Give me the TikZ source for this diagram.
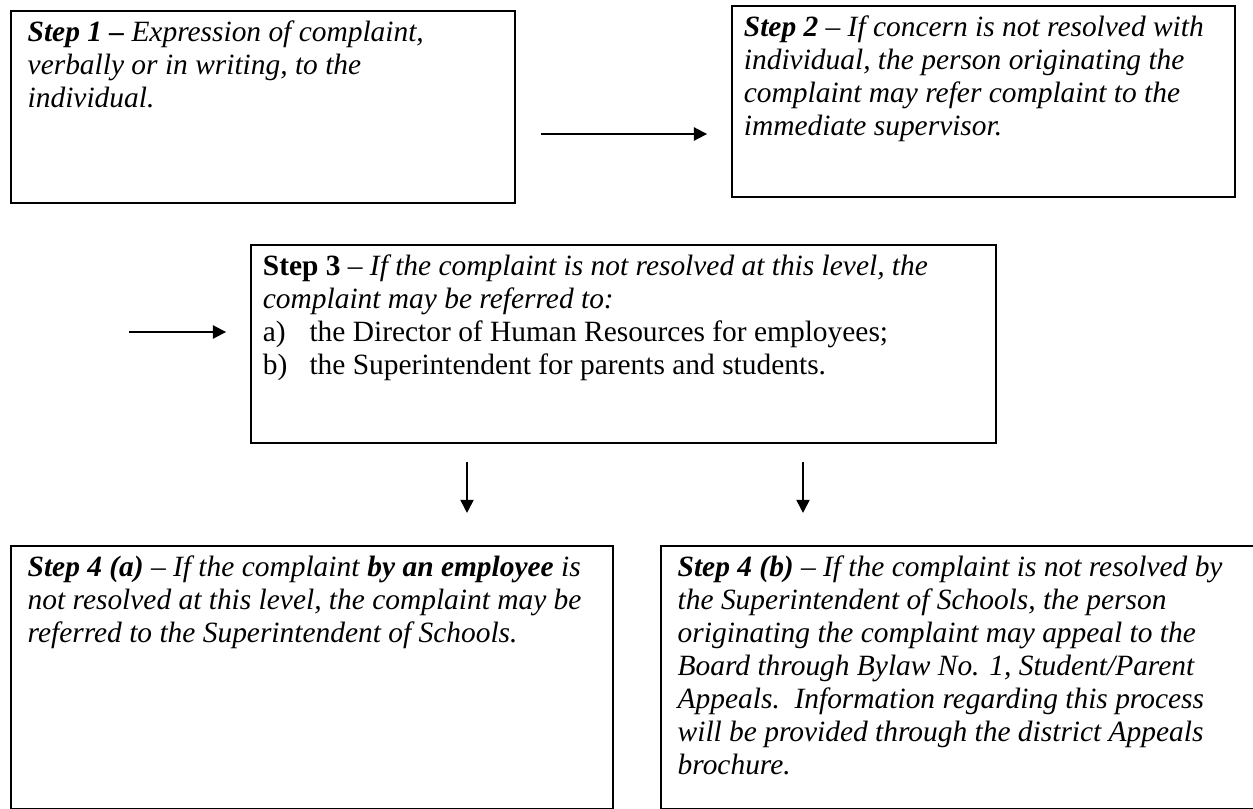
\documentclass[tikz,border=0pt]{standalone}
\usepackage{fontspec}
\setmainfont{Liberation Serif}
\usetikzlibrary{arrows.meta}

\newcommand{\boxtext}[3]{\parbox[t][#2][t]{#1}{\raggedright #3}}
\newcommand{\bi}[1]{\textbf{\textit{#1}}}
\newcommand{\itemlabel}[1]{\makebox[19.5pt][l]{#1}}

\begin{document}
\begin{tikzpicture}[
    x = 0.418pt, y = -0.418pt,
    stepbox/.style = {draw, line width = 0.8pt, anchor = north west, inner xsep = 7pt, inner ysep = 4pt, font = \fontsize{12.3}{13.8}\selectfont},
    flow/.style = {-{Triangle[length = 5.5pt, width = 5.5pt]}, line width = 0.8pt},
    ]
    \useasboundingbox (0, 0) rectangle (1253, 809);

    \node[stepbox] (S1) at (10, 10) {\boxtext{196.7pt}{72.3pt}{\bi{Step 1 –} \textit{Expression of complaint,}\\ \textit{verbally or in writing, to the}\\ \textit{individual.}}};
    \node[stepbox, inner xsep = 5pt] (S2) at (731, 5) {\boxtext{200.3pt}{71.8pt}{\bi{Step 2} \textit{– If concern is not resolved with}\\ \textit{individual, the person originating the}\\ \textit{complaint may refer complaint to the}\\ \textit{immediate supervisor.}}};

    \node[stepbox, inner xsep = 5pt] (S3) at (250, 244) {\boxtext{301.4pt}{74.8pt}{\textbf{Step 3} \textit{– If the complaint is not resolved at this level, the}\\ \textit{complaint may be referred to:}\\ \itemlabel{a)}the Director of Human Resources for employees;\\ \itemlabel{b)}the Superintendent for parents and students.}};

    \node[stepbox] (S4a) at (10, 545) {\boxtext{237.6pt}{101.9pt}{\bi{Step 4 (a)} \textit{– If the complaint} \bi{by an employee} \textit{is}\\ \textit{not resolved at this level, the complaint may be}\\ \textit{referred to the Superintendent of Schools.}}};
    \node[stepbox] (S4b) at (660, 545) {\boxtext{238.9pt}{101.9pt}{\bi{Step 4 (b)} \textit{– If the complaint is not resolved by}\\ \textit{the Superintendent of Schools, the person}\\ \textit{originating the complaint may appeal to the}\\ \textit{Board through Bylaw No. 1, Student/Parent}\\ \textit{Appeals.\ \ Information regarding this process}\\ \textit{will be provided through the district Appeals}\\ \textit{brochure.}}};

    % connectors
    \coordinate (lvl1) at (0, 134);
    \coordinate (in3) at (129, 332);
    \coordinate (d1) at (467, 0);
    \coordinate (d2) at (803, 0);

    \draw[flow, shorten <= 10.5pt, shorten >= 10pt] (S1.east |- lvl1) -- (S2.west |- lvl1);
    \draw[flow, shorten >= 10pt] (in3) -- (S3.west |- in3);
    \draw[flow, shorten <= 7.5pt, shorten >= 13.4pt] (S3.south -| d1) -- (S4a.north -| d1);
    \draw[flow, shorten <= 7.5pt, shorten >= 13.4pt] (S3.south -| d2) -- (S4a.north -| d2);
\end{tikzpicture}
\end{document}
